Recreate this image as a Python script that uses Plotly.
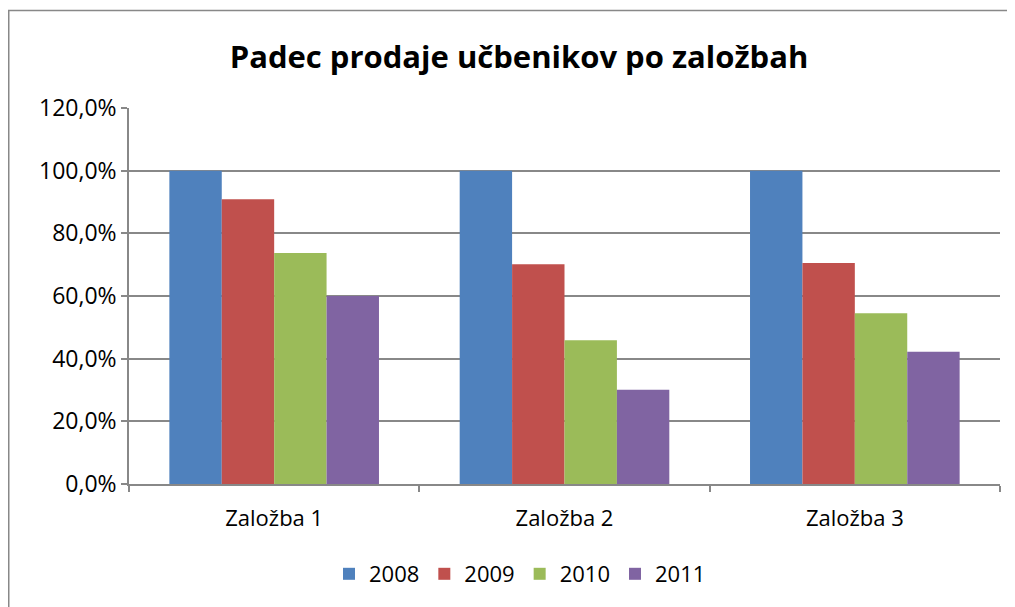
import plotly.graph_objects as go

categories = ["Založba 1", "Založba 2", "Založba 3"]
years = ["2008", "2009", "2010", "2011"]
values_2008 = [1.000, 1.000, 1.000]
values_2009 = [0.909, 0.701, 0.705]
values_2010 = [0.737, 0.459, 0.545]
values_2011 = [0.600, 0.301, 0.422]
colors = ["#4F81BD", "#C0504D", "#9BBB59", "#8064A2"]

series = [values_2008, values_2009, values_2010, values_2011]

W, H = 1007, 599
L, R, T, B = 121, 992, 100, 476
PW, PH = R - L, B - T

fig = go.Figure()
for name, vals, col in zip(years, series, colors):
    fig.add_trace(go.Bar(x=categories, y=vals, name=name, marker=dict(color=col, line=dict(width=0))))

font_family = "'Open Sans', sans-serif"
fig.update_layout(
    width=W, height=H,
    margin=dict(l=L, r=W - R, t=T, b=H - B, autoexpand=False),
    paper_bgcolor="white", plot_bgcolor="white",
    separators=", ",
    barmode="group", bargap=0.278, bargroupgap=0,
    title=dict(text="<b>Padec prodaje učbenikov po založbah</b>", x=511 / W, xanchor="center",
               y=1 - 49 / H, yanchor="middle", font=dict(family=font_family, size=31, color="black")),
    font=dict(family=font_family, size=23, color="black"),
    legend=dict(orientation="h", x=(512 - L) / PW, xanchor="center", y=(B - 566) / PH, yanchor="middle",
                font=dict(size=22), traceorder="normal", itemwidth=30),
    showlegend=True,
    xaxis=dict(showline=True, linecolor="#888888", linewidth=1.5, ticks="outside", tickson="boundaries",
               ticklen=6, tickcolor="#888888", tickwidth=1.5, showgrid=False, ticklabelstandoff=14,
               tickfont=dict(size=22)),
    yaxis=dict(range=[0, 1.2], dtick=0.2, tickformat=".1%", showline=True, linecolor="#888888", linewidth=1.5,
               ticks="outside", ticklen=6, tickcolor="#888888", tickwidth=1.5,
               showgrid=True, gridcolor="#888888", gridwidth=1.5, zeroline=False),
)
fig.add_shape(type="rect", xref="paper", yref="paper", x0=(0.75 - L) / PW, x1=(W + 5 - L) / PW,
              y0=-0.5, y1=(B - 2.5) / PH, line=dict(color="#888888", width=1.5))
fig.write_html("out.html")
